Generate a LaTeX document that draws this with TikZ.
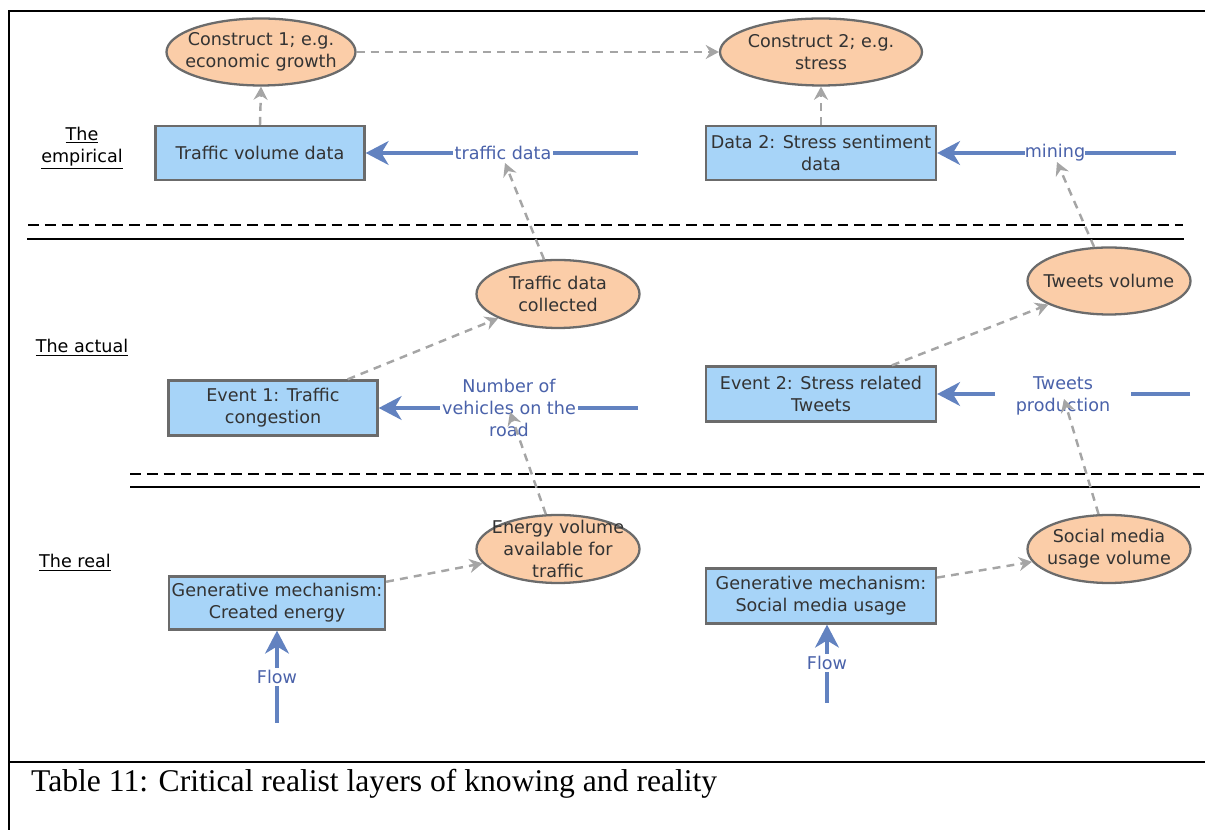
\documentclass[tikz,border=0pt]{standalone}
\usepackage{fontspec}
\setmainfont{Liberation Serif}
\newfontfamily\diagfont{DejaVu Sans}
\usetikzlibrary{arrows.meta,shapes.geometric}

\newlength\pu
\setlength\pu{0.02cm}

\definecolor{boxline}{HTML}{6B6B6B}
\definecolor{boxblue}{HTML}{A7D4F8}
\definecolor{peach}{HTML}{FBCDA8}
\definecolor{flowblue}{HTML}{6282C0}
\definecolor{labelblue}{HTML}{4A62AA}
\definecolor{dashgray}{HTML}{A5A5A5}
\definecolor{inktext}{HTML}{333333}

\tikzset{
  x=0.02cm, y=-0.02cm,
  diag/.style={font=\diagfont\fontsize{10}{12.5}\selectfont, align=center},
  stagebox/.style={diag, rectangle, draw=boxline, fill=boxblue, line width=1.3pt,
    text=inktext, inner sep=0pt},
  % ellipses keep their own size; the text sits on top as a centred label
  oval/.style={ellipse, draw=boxline, fill=peach, line width=1.3pt, inner sep=0pt,
    label={[diag, text=inktext, inner sep=0pt]center:#1}},
  flowarrow/.style={draw=flowblue, line width=2.6pt,
    -{Stealth[length=13pt, width=13.5pt, inset=4pt]}},
  flowlabel/.style={diag, text=labelblue, fill=white, inner sep=1pt},
  infer/.style={draw=dashgray, line width=1.4pt, dash pattern=on 4.5pt off 3.5pt,
    -{Stealth[length=7.5pt, width=8pt, inset=2.5pt]}},
  layername/.style={diag, text=black},
  frame/.style={draw=black, line width=1.4pt},
  sepdash/.style={draw=black, line width=1.5pt, dash pattern=on 6.2pt off 3.4pt},
  sepsolid/.style={draw=black, line width=1.2pt},
}

\begin{document}
\begin{tikzpicture}
\useasboundingbox (0,0) rectangle (1205,830);

% table frame and caption row
\draw[frame] (9,830) -- (9,11) -- (1205,11);
\draw[frame] (9,762) -- (1205,762);
\node[anchor=base west, font=\fontsize{18}{22}\selectfont] (caption) at (25,792)
  {Table 11: Critical realist layers of knowing and reality};

% layer separators
\draw[sepdash]  (28,225) -- (1183,225);
\draw[sepsolid] (27,239) -- (1184,239);
\draw[sepdash]  (130,474) -- (1205,474);
\draw[sepsolid] (130,487) -- (1200,487);

% layer names
\node[layername] (lemp) at (82,148) {\underline{The}\\\underline{empirical}};
\node[layername] (lact) at (82,348) {\underline{The actual}};
\node[layername] (lreal) at (75,563) {\underline{The real}};

% the empirical
\node[oval={Construct 1; e.g.\\economic growth},
  minimum width=189\pu, minimum height=67\pu] (c1) at (261,52) {};
\node[oval={Construct 2; e.g.\\stress},
  minimum width=202\pu, minimum height=67\pu] (c2) at (821,52) {};
\node[stagebox, minimum width=209\pu, minimum height=54\pu] (d1) at (260,153)
  {Traffic volume data};
\node[stagebox, minimum width=230\pu, minimum height=54\pu] (d2) at (821,153)
  {Data 2: Stress sentiment\\data};

% the actual
\node[oval={Traffic data\\collected},
  minimum width=163\pu, minimum height=68\pu] (tdc) at (558,294) {};
\node[oval={Tweets volume},
  minimum width=163\pu, minimum height=67\pu] (tv) at (1109,281) {};
\node[stagebox, minimum width=209\pu, minimum height=55\pu] (e1) at (273,408)
  {Event 1: Traffic\\congestion};
\node[stagebox, minimum width=230\pu, minimum height=55\pu] (e2) at (821,394)
  {Event 2: Stress related\\Tweets};

% the real
\node[oval={Energy volume\\available for\\traffic},
  minimum width=163\pu, minimum height=68\pu] (ev) at (558,549) {};
\node[oval={Social media\\usage volume},
  minimum width=163\pu, minimum height=68\pu] (sm) at (1109,549) {};
\node[stagebox, minimum width=216\pu, minimum height=53\pu] (g1) at (277,603)
  {Generative mechanism:\\Created energy};
\node[stagebox, minimum width=230\pu, minimum height=55\pu] (g2) at (821,596)
  {Generative mechanism:\\Social media usage};

% free ends of the flow arrows
\coordinate (f1) at (638,153);
\coordinate (f2) at (1176,153);
\coordinate (f3) at (638,408);
\coordinate (f4) at (1190,394);
\coordinate (f5) at (277,723);
\coordinate (f6) at (827,703);

\draw[flowarrow] (f1) -- (d1.east);
\draw[flowarrow] (f2) -- (d2.east);
\draw[flowarrow] (f3) -- (e1.east);
\draw[flowarrow] (f4) -- (e2.east);
\draw[flowarrow] (f5) -- (f5 |- g1.south);
\draw[flowarrow] (f6) -- (f6 |- g2.south);

% flow labels
\node[flowlabel] (ltd) at (503,153) {traffic data};
\node[flowlabel, inner sep=0pt] (lmin) at (1055,153) {mining};
\node[flowlabel] (lnv) at (509,408) {Number of\\vehicles on the\\road};
\node[flowlabel, inner xsep=12pt] (ltp) at (1063,396) {Tweets\\production};
\node[flowlabel] (lfl1) at (277,677) {Flow};
\node[flowlabel] (lfl2) at (827,663) {Flow};

% tips of the dashed arrows that end on the flows
\coordinate (ttd) at (505,163);
\coordinate (tmin) at (1057,162);
\coordinate (tnv) at (510,412);
\coordinate (ttp) at (1064,399);

% dashed links
\draw[infer] (d1.north) -- (c1.south);
\draw[infer] (d2.north) -- (c2.south);
\draw[infer] (c1.east) -- (c2.west);
\draw[infer] (e1.21) -- (tdc);
\draw[infer] (e2.22) -- (tv);
\draw[infer] (g1.11) -- (ev);
\draw[infer] (g2.9) -- (sm);
\draw[infer] (tdc) -- (ttd);
\draw[infer] (tv) -- (tmin);
\draw[infer] (ev) -- (tnv);
\draw[infer] (sm) -- (ttp);
\end{tikzpicture}
\end{document}
